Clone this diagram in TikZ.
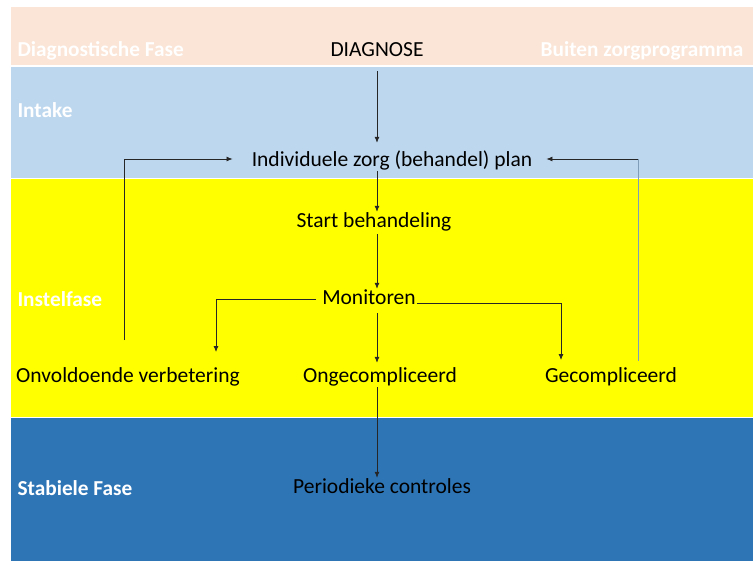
\documentclass[tikz,border=0pt]{standalone}
\usepackage{fontspec}
\setmainfont{Carlito}
\usetikzlibrary{arrows.meta}
\definecolor{peach}{HTML}{FBE5D6}
\definecolor{lightband}{HTML}{BDD7EE}
\definecolor{yellowband}{HTML}{FFFF00}
\definecolor{darkband}{HTML}{2E75B6}
\definecolor{loopblue}{HTML}{7F9DB9}
\begin{document}
\begin{tikzpicture}[x=1pt,y=-1pt,
    arrow/.style={draw=black!85, line width=0.8pt, -{Latex[length=6pt,width=5pt]}},
    phase/.style={anchor=west, text=white, font=\fontsize{21.3}{25}\selectfont\bfseries}]
  \useasboundingbox (0,0) rectangle (753,563);
  % Bands
  \fill[peach] (11,7) rectangle (753,65);
  \fill[lightband] (11,67) rectangle (753,178);
  \fill[yellowband] (11,179) rectangle (753,417);
  \fill[darkband] (11,418) rectangle (753,561);

  % Phase labels
  \node[phase] (lbdiag) at (14,51) {Diagnostische Fase};
  \node[phase] (lbintake) at (14,110) {Intake};
  \node[phase] (lbinstel) at (14,299) {Instelfase};
  \node[phase] (lbstab) at (14,488) {Stabiele Fase};
  \node[phase, anchor=east] (lbbuiten) at (747,51) {Buiten zorgprogramma};

  \begin{scope}[every node/.style={inner sep=1pt, text height=14pt, text depth=4pt, font=\fontsize{21.5}{25}\selectfont}]
    \node (diag) at (377,51) {DIAGNOSE};
    \node (plan) at (392,161) {Individuele zorg (behandel) plan};
    \node (start) at (374,222) {Start behandeling};
    \node (monitor) at (369,299) {Monitoren};
    \node (onvold) at (128,377) {Onvoldoende verbetering};
    \node (ongecomp) at (380,377) {Ongecompliceerd};
    \node (gecomp) at (611,377) {Gecompliceerd};
    \node (periodiek) at (382,488) {Periodieke controles};
  \end{scope}

  \coordinate (lbend) at (216,299);
  \coordinate (lend) at (216,352);
  \coordinate (rbend) at (561,303);
  \coordinate (rend) at (561,360);
  \coordinate (lloop) at (124,340);
  \coordinate (lturn) at (124,159);
  \coordinate (rloop) at (638,361);
  \coordinate (rturn) at (638,159);

  % Main line
  \draw[arrow, shorten <=10pt, shorten >=8pt] (diag.south) -- (diag.south |- plan.north);
  \draw[arrow] (diag.south |- plan.south) -- (diag.south |- start.north);
  \draw[arrow, shorten <=2pt] (diag.south |- start.south) -- (diag.south |- monitor.north);
  \draw[arrow, shorten <=4pt, shorten >=4pt] (diag.south |- monitor.south) -- (diag.south |- ongecomp.north);
  \draw[arrow] (diag.south |- ongecomp.south) -- (diag.south |- periodiek.north);

  % Branches
  \draw[arrow, shorten <=5pt] (monitor.west) -- (lbend) -- (lend);
  \draw[arrow] (monitor.east |- rbend) -- (rbend) -- (rend);

  % Loops back
  \draw[arrow, shorten >=18pt] (lloop) -- (lturn) -- (plan.west |- lturn);
  \draw[draw=loopblue, line width=0.8pt] (rloop) -- (rturn);
  \draw[arrow, shorten >=13pt] (rturn) -- (plan.east |- rturn);
\end{tikzpicture}
\end{document}
